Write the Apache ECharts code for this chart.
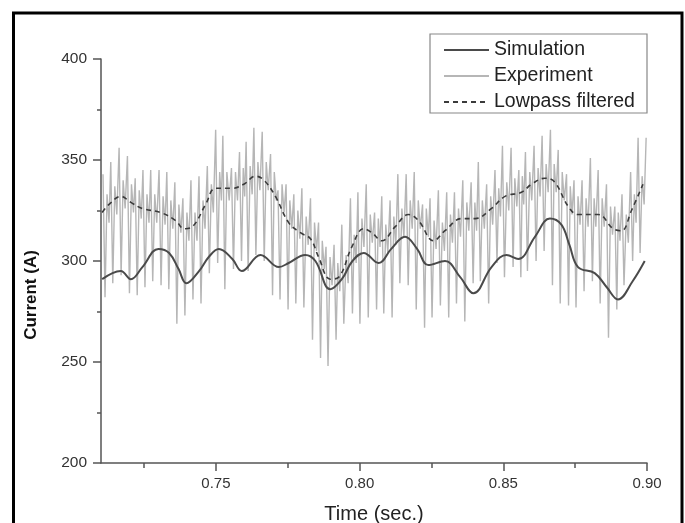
<!DOCTYPE html>
<html>
<head>
<meta charset="utf-8">
<script src="https://cdn.jsdelivr.net/npm/echarts@6/dist/echarts.min.js"></script>
<style>
html,body{margin:0;padding:0;background:#fff;}
#chart{width:685px;height:523px;}
</style>
</head>
<body>
<div id="chart"></div>
<script>
// ---- Data ----
const xLabelValues = [0.75, 0.80, 0.85, 0.90];
const xMinorTickValues = [0.725, 0.775, 0.825, 0.875];

// Experiment: peaks (tops of spikes), 69 spikes
const expPeakTime = [
  0.7107,0.7134,0.7163,0.7192,0.7219,0.7246,0.7273,0.7302,0.7329,0.7357,0.7385,0.7413,0.7441,0.7470,0.7499,0.7524,0.7554,
  0.7582,0.7605,0.7632,0.7661,0.7690,0.7716,0.7744,0.7771,0.7799,0.7829,0.7857,0.7883,0.7911,0.7938,0.7968,0.7994,0.8023,0.8052,
  0.8077,0.8106,0.8133,0.8162,0.8190,0.8219,0.8245,0.8274,0.8303,0.8330,0.8359,0.8388,0.8413,0.8442,0.8471,0.8497,0.8527,
  0.8554,0.8577,0.8607,0.8635,0.8664,0.8691,0.8720,0.8746,0.8774,0.8803,0.8830,0.8859,0.8888,0.8913,0.8943,0.8969,
  0.8997
];
const expPeakValue = [
  343,349,356,352,341,345,345,345,344,339,331,340,342,347,365,362,346,
  354,359,366,364,353,335,338,333,336,331,319,307,308,318,331,334,338,324,
  332,330,343,343,344,328,331,335,334,334,340,339,349,338,345,357,356,
  345,354,357,362,365,355,343,340,340,351,345,338,327,333,344,361,
  361
];
// Experiment: troughs (bottoms of spikes), one after each peak
const expTroughTime = [
  0.7114,0.7141,0.7170,0.7199,0.7226,0.7253,0.7280,0.7309,0.7336,0.7364,0.7392,0.7420,0.7448,0.7477,0.7506,0.7531,0.7561,
  0.7589,0.7612,0.7639,0.7668,0.7697,0.7723,0.7751,0.7778,0.7806,0.7836,0.7864,0.7890,0.7918,0.7945,0.7975,0.8001,0.8030,0.8059,
  0.8084,0.8113,0.8140,0.8169,0.8197,0.8226,0.8252,0.8281,0.8310,0.8337,0.8366,0.8395,0.8420,0.8449,0.8478,0.8504,0.8534,
  0.8561,0.8584,0.8614,0.8642,0.8671,0.8698,0.8727,0.8753,0.8781,0.8810,0.8837,0.8866,0.8895,0.8920,0.8950,0.8976
];
const expTroughValue = [
  282,289,293,284,283,287,290,288,286,269,273,281,279,294,299,286,296,
  300,295,303,300,283,281,276,279,277,261,252,248,261,269,274,269,272,276,
  274,272,289,288,276,267,272,278,272,279,270,289,290,279,299,292,297,
  292,295,300,305,288,279,278,277,285,290,279,262,276,288,300,304
];
// Experiment: upper edge of the grey ripple band between spikes
const expBandHighTime = [
  0.7121,0.7148,0.7177,0.7206,0.7233,0.7260,0.7287,0.7316,0.7343,0.7371,0.7399,0.7427,0.7455,0.7484,0.7513,0.7538,0.7568,
  0.7595,0.7619,0.7646,0.7675,0.7703,0.7730,0.7757,0.7785,0.7814,0.7843,0.7870,0.7897,0.7924,0.7953,0.7981,0.8008,0.8037,0.8065,
  0.8091,0.8119,0.8147,0.8176,0.8204,0.8232,0.8259,0.8288,0.8316,0.8344,0.8373,0.8401,0.8427,0.8456,0.8484,0.8512,0.8540,
  0.8566,0.8592,0.8621,0.8649,0.8677,0.8705,0.8733,0.8760,0.8788,0.8816,0.8844,0.8873,0.8900,0.8928,0.8956,0.8983
];
const expBandHighValue = [
  333,337,340,338,335,333,333,332,330,328,324,324,330,338,344,344,344,
  346,347,349,349,344,338,330,325,322,319,310,302,299,303,313,321,323,321,
  318,322,326,330,330,326,320,319,323,326,329,329,330,332,336,339,341,
  342,344,346,348,348,344,337,332,331,331,331,327,324,323,333,342
];
// Experiment: lower edge of the grey ripple band between spikes
const expBandLowTime = [
  0.7128,0.7155,0.7184,0.7213,0.7240,0.7267,0.7294,0.7323,0.7350,0.7378,0.7406,0.7434,0.7462,0.7491,0.7519,0.7546,0.7575,
  0.7600,0.7626,0.7653,0.7682,0.7710,0.7737,0.7764,0.7792,0.7821,0.7850,0.7877,0.7904,0.7931,0.7960,0.7988,0.8015,0.8044,0.8071,
  0.8098,0.8126,0.8154,0.8183,0.8211,0.8239,0.8266,0.8295,0.8323,0.8351,0.8380,0.8407,0.8434,0.8463,0.8490,0.8519,0.8547,
  0.8571,0.8599,0.8628,0.8656,0.8684,0.8712,0.8739,0.8767,0.8795,0.8822,0.8851,0.8880,0.8906,0.8935,0.8962,0.8990
];
const expBandLowValue = [
  319,323,326,324,321,319,319,318,316,314,310,310,316,324,330,330,330,
  332,333,335,335,330,324,316,311,308,305,296,288,285,289,299,307,309,307,
  304,308,312,316,316,312,306,305,309,312,315,315,316,318,322,325,327,
  328,330,332,334,334,330,323,318,317,317,317,313,310,309,319,328
];

// Simulation
const simTime = [
  0.7104,0.7140,0.7169,0.7204,0.7244,0.7300,0.7337,0.7370,0.7397,0.7441,0.7475,0.7510,0.7557,0.7590,
  0.7655,0.7719,0.7753,0.7811,0.7846,0.7898,0.7938,0.7975,0.8014,0.8066,0.8110,0.8158,0.8200,0.8239,
  0.8297,0.8350,0.8396,0.8459,0.8511,0.8552,0.8610,0.8662,0.8702,0.8730,0.8760,0.8818,0.8860,0.8899,
  0.8950,0.8992
];
const simValue = [
  291,294,295,291,297,306,304,296,289,295,302,306,301,295,
  303,297,299,303,300,286,291,300,304,299,306,312,306,298,
  300,292,284,297,303,301,312,321,318,308,297,294,287,281,
  290,300
];

// Lowpass filtered
const lpTime = [
  0.7104,0.7128,0.7169,0.7204,0.7244,0.7308,0.7360,0.7389,0.7418,0.7464,0.7499,0.7557,0.7597,
  0.7638,0.7667,0.7707,0.7753,0.7794,0.7829,0.7857,0.7898,0.7927,0.7973,0.8014,0.8043,0.8077,
  0.8124,0.8170,0.8205,0.8257,0.8297,0.8355,0.8402,0.8459,0.8506,0.8563,
  0.8598,0.8645,0.8679,0.8726,0.8760,0.8830,0.8882,0.8911,0.8946,0.8986
];
const lpValue = [
  324,328,332,329,326,324,320,316,317,328,336,336,338,
  342,340,332,319,314,311,302,291,292,307,316,314,310,
  317,323,320,310,315,321,321,326,332,334,
  338,341,339,327,323,323,316,315,325,338
];

function zip(a, b) { return a.map((v, i) => [v, b[i]]); }
const expData = [];
for (let i = 0; i < expPeakTime.length; i++) {
  expData.push([expPeakTime[i], expPeakValue[i]]);
  if (i < expTroughTime.length) {
    expData.push([expTroughTime[i], expTroughValue[i]]);
    expData.push([expBandHighTime[i], expBandHighValue[i]]);
    expData.push([expBandLowTime[i], expBandLowValue[i]]);
  }
}

const FONT = '"Liberation Sans", Arial, sans-serif';
const chart = echarts.init(document.getElementById('chart'), null, {renderer: 'canvas'});
chart.setOption({
  backgroundColor: '#ffffff',
  animation: false,
  grid: {left: 101, right: 38, top: 59, bottom: 60, containLabel: false, outerBoundsMode: 'none'},
  xAxis: [{
    type: 'value', min: 0.71, max: 0.90,
    name: 'Time (sec.)', nameLocation: 'middle', nameGap: 41,
    nameTextStyle: {fontFamily: FONT, fontSize: 20, color: '#222'},
    axisLine: {lineStyle: {color: '#555', width: 1.5}},
    axisTick: {show: true, inside: false, length: 8, customValues: xLabelValues, lineStyle: {color: '#555', width: 1.5}},
    axisLabel: {customValues: xLabelValues, formatter: v => v.toFixed(2), fontFamily: FONT, fontSize: 15, color: '#333', margin: 13},
    splitLine: {show: false}
  }, {
    type: 'value', min: 0.71, max: 0.90, position: 'bottom', gridIndex: 0,
    axisLine: {show: false},
    axisTick: {show: true, length: 5, customValues: xMinorTickValues, lineStyle: {color: '#555', width: 1.5}},
    axisLabel: {show: false},
    splitLine: {show: false}
  }],
  yAxis: {
    type: 'value', min: 200, max: 400, interval: 50,
    axisLine: {show: true, lineStyle: {color: '#555', width: 1.5}},
    axisTick: {show: true, length: 8, lineStyle: {color: '#555', width: 1.5}},
    minorTick: {show: true, splitNumber: 2, length: 4, lineStyle: {color: '#555', width: 1.5}},
    axisLabel: {fontFamily: FONT, fontSize: 15.5, color: '#333', margin: 14},
    splitLine: {show: false}
  },
  legend: {
    orient: 'vertical', left: 443, top: 40, padding: 0,
    itemWidth: 45, itemHeight: 14, itemGap: 6, selectedMode: false,
    itemStyle: {opacity: 0},
    data: ['Simulation', 'Experiment', 'Lowpass filtered'],
    textStyle: {fontFamily: FONT, fontSize: 19.5, color: '#222', lineHeight: 18}
  },
  graphic: [
    {type: 'rect', shape: {x: 430, y: 34, width: 217, height: 79}, style: {fill: 'none', stroke: '#888', lineWidth: 1.2}, z: 10},
    {type: 'rect', shape: {x: 13.5, y: 13, width: 668.5, height: 560}, style: {fill: 'none', stroke: '#000', lineWidth: 3}, z: 10},
    {type: 'text', x: 31, y: 295, rotation: Math.PI / 2,
     style: {text: 'Current (A)', font: 'bold 17px ' + FONT, fill: '#111', textAlign: 'center', textVerticalAlign: 'middle'}, z: 10}
  ],
  series: [
    {name: 'Experiment', type: 'line', xAxisIndex: 0, data: expData, symbol: 'none', z: 1,
     lineStyle: {color: '#b6b6b6', width: 1.4}, itemStyle: {color: '#b6b6b6'}},
    {name: 'Lowpass filtered', type: 'line', xAxisIndex: 0, data: zip(lpTime, lpValue), symbol: 'none', smooth: 0.4, z: 3,
     lineStyle: {color: '#3a3a3a', width: 1.6, type: [5, 4]}, itemStyle: {color: '#3a3a3a'}},
    {name: 'Simulation', type: 'line', xAxisIndex: 0, data: zip(simTime, simValue), symbol: 'none', smooth: 0.4, z: 4,
     lineStyle: {color: '#4a4a4a', width: 2}, itemStyle: {color: '#4a4a4a'}}
  ]
});
</script>
</body>
</html>
